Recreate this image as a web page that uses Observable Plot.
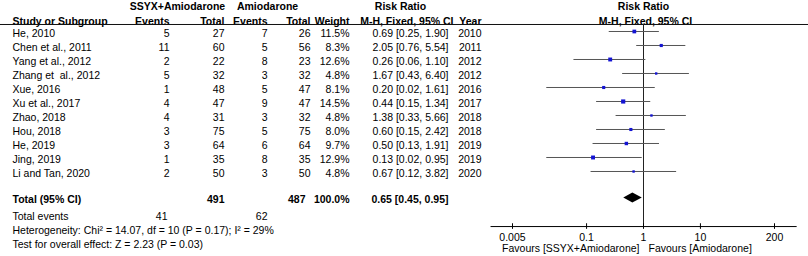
<!DOCTYPE html>
<html>
<head>
<meta charset="utf-8">
<script src="https://cdn.jsdelivr.net/npm/d3@7"></script>
<script src="https://cdn.jsdelivr.net/npm/@observablehq/plot@0.6"></script>
<style>
  html, body { margin: 0; padding: 0; background: #fff; }
  #chart { width: 808px; height: 256px; }
</style>
</head>
<body>
<div id="chart"></div>
<script>
// ---- data ----
const studies = ["He, 2010", "Chen et al., 2011", "Yang et al., 2012", "Zhang et\u00a0 al., 2012", "Xue, 2016",
  "Xu et al., 2017", "Zhao, 2018", "Hou, 2018", "He, 2019", "Jing, 2019", "Li and Tan, 2020"];
const ssyxEvents = [5, 11, 2, 5, 1, 4, 4, 3, 3, 1, 2];
const ssyxTotal = [27, 60, 22, 32, 48, 47, 31, 75, 64, 35, 50];
const amioEvents = [7, 5, 8, 3, 5, 9, 3, 5, 6, 8, 3];
const amioTotal = [26, 56, 23, 32, 47, 47, 32, 75, 64, 35, 50];
const weights = [11.5, 8.3, 12.6, 4.8, 8.1, 14.5, 4.8, 8.0, 9.7, 12.9, 4.8];
const riskRatio = [0.69, 2.05, 0.26, 1.67, 0.20, 0.44, 1.38, 0.60, 0.50, 0.13, 0.67];
const ciLow = [0.25, 0.76, 0.06, 0.43, 0.02, 0.15, 0.33, 0.15, 0.13, 0.02, 0.12];
const ciHigh = [1.90, 5.54, 1.10, 6.40, 1.61, 1.34, 5.66, 2.42, 1.91, 0.95, 3.82];
const years = ["2010", "2011", "2012", "2012", "2016", "2017", "2018", "2018", "2019", "2019", "2020"];

const totalLabel = "Total (95% CI)";
const totalN = ["491", "487"];
const totalWeight = "100.0%";
const totalRR = [0.65, 0.45, 0.95]; // estimate, low, high
const totalEventsLabel = "Total events";
const totalEvents = ["41", "62"];
const heterogeneityText = "Heterogeneity: Chi\u00b2 = 14.07, df = 10 (P = 0.17); I\u00b2 = 29%";
const overallText = "Test for overall effect: Z = 2.23 (P = 0.03)";

const groupHeaders = ["SSYX+Amiodarone", "Amiodarone", "Risk Ratio", "Risk Ratio"];
const columnHeaders = ["Study or Subgroup", "Events", "Total", "Events", "Total", "Weight", "M-H, Fixed, 95% CI", "Year", "M-H, Fixed, 95% CI"];
const axisTicks = [0.005, 0.1, 1, 10, 200];
const axisTickLabels = ["0.005", "0.1", "1", "10", "200"];
const axisExtent = [0.0021, 500];
const favoursLabels = ["Favours [SSYX+Amiodarone]", "Favours [Amiodarone]"];

// ---- layout (row units & column offsets) ----
const ROW_H1 = -0.93, ROW_H2 = 0.14, ROW_RULE = 0.357;
const ROW_TOTAL = 12.857, ROW_TEV = 14.07, ROW_HET = 15.07, ROW_TEST = 16.07;
const ROW_AXIS = 14.79, ROW_TICKLAB = 15.57, ROW_FAV = 16.36;
const COL = {study: 12, e1: 169, n1: 224, e2: 267, n2: 310, w: 349, ci: 448, year: 481};

const rows = studies.map((s, i) => ({
  study: s, e1: String(ssyxEvents[i]), n1: String(ssyxTotal[i]), e2: String(amioEvents[i]), n2: String(amioTotal[i]),
  w: weights[i].toFixed(1) + "%", weight: weights[i],
  ci: `${riskRatio[i].toFixed(2)} [${ciLow[i].toFixed(2)}, ${ciHigh[i].toFixed(2)}]`,
  rr: riskRatio[i], lo: ciLow[i], hi: ciHigh[i], year: years[i], row: i + 1
}));

const F = "Liberation Sans, Arial, Helvetica, sans-serif";
const base = {frameAnchor: "left", fill: "#000", fontSize: 10.5};
function col(data, key, dx, anchor, extra = {}) {
  return Plot.text(data, {...base, y: "row", text: key, dx, textAnchor: anchor, ...extra});
}

const headerData1 = [
  {t: groupHeaders[0], dx: 177, a: "middle"},
  {t: groupHeaders[1], dx: 267, a: "middle"},
  {t: groupHeaders[2], dx: 400, a: "middle"},
  {t: groupHeaders[3], dx: 643, a: "middle"}
];
const headerData2 = [
  {t: columnHeaders[0], dx: COL.study, a: "start"},
  {t: columnHeaders[1], dx: COL.e1, a: "end"},
  {t: columnHeaders[2], dx: COL.n1, a: "end"},
  {t: columnHeaders[3], dx: COL.e2, a: "end"},
  {t: columnHeaders[4], dx: COL.n2, a: "end"},
  {t: columnHeaders[5], dx: COL.w, a: "end"},
  {t: columnHeaders[6], dx: 453, a: "end"},
  {t: columnHeaders[7], dx: COL.year, a: "end"},
  {t: columnHeaders[8], dx: 645, a: "middle"}
];
const totalRow = [{study: totalLabel, n1: totalN[0], n2: totalN[1], w: totalWeight,
  ci: `${totalRR[0].toFixed(2)} [${totalRR[1].toFixed(2)}, ${totalRR[2].toFixed(2)}]`, row: ROW_TOTAL}];
const tevRow = [{study: totalEventsLabel, e1: totalEvents[0], e2: totalEvents[1], row: ROW_TEV}];
const footRows = [{t: heterogeneityText, row: ROW_HET}, {t: overallText, row: ROW_TEST}];
const tickData = axisTicks.map((v, i) => ({v, label: axisTickLabels[i]}));

const dh = 0.36;
const diamond = [
  {x: totalRR[1], y1: ROW_TOTAL, y2: ROW_TOTAL},
  {x: totalRR[0], y1: ROW_TOTAL - dh, y2: ROW_TOTAL + dh},
  {x: totalRR[2], y1: ROW_TOTAL, y2: ROW_TOTAL}
];

const chart = Plot.plot({
  width: 808, height: 256,
  marginTop: 0, marginLeft: 0, marginRight: 0, marginBottom: 0,
  style: {fontFamily: F, fontSize: "10.5px", color: "#000", background: "#fff"},
  x: {type: "log", domain: [0.005, 200], range: [512, 774], axis: null},
  y: {type: "linear", domain: [-1.357, 16.929], range: [0, 256], axis: null},
  r: {type: "sqrt", domain: [0, 15], range: [0, 2.4]},
  marks: [
    // header
    ...headerData1.map(h => Plot.text([h], {...base, y: () => ROW_H1, text: "t", dx: h.dx, textAnchor: h.a, fontWeight: "bold"})),
    ...headerData2.map(h => Plot.text([h], {...base, y: () => ROW_H2, text: "t", dx: h.dx, textAnchor: h.a, fontWeight: "bold"})),
    Plot.ruleY([ROW_RULE], {stroke: "#111", strokeWidth: 1}),
    // study rows
    col(rows, "study", COL.study, "start"),
    col(rows, "e1", COL.e1, "end"),
    col(rows, "n1", COL.n1, "end"),
    col(rows, "e2", COL.e2, "end"),
    col(rows, "n2", COL.n2, "end"),
    col(rows, "w", COL.w, "end"),
    col(rows, "ci", COL.ci, "end"),
    col(rows, "year", COL.year, "end"),
    // total rows
    col(totalRow, "study", COL.study, "start", {fontWeight: "bold"}),
    col(totalRow, "n1", COL.n1, "end", {fontWeight: "bold"}),
    col(totalRow, "n2", 305, "end", {fontWeight: "bold"}),
    col(totalRow, "w", COL.w, "end", {fontWeight: "bold"}),
    col(totalRow, "ci", COL.ci, "end", {fontWeight: "bold"}),
    col(tevRow, "study", COL.study, "start"),
    col(tevRow, "e1", COL.e1 - 2, "end"),
    col(tevRow, "e2", COL.e2, "end"),
    col(footRows, "t", COL.study, "start"),
    // forest plot
    Plot.ruleX([1], {y1: ROW_RULE, y2: ROW_AXIS, stroke: "#222", strokeWidth: 1}),
    Plot.ruleY(rows, {y: "row", x1: "lo", x2: "hi", stroke: "#555", strokeWidth: 1, dy: -2}),
    Plot.dot(rows, {x: "rr", y: "row", r: "weight", symbol: "square", fill: "#1414d2", stroke: null, dy: -2}),
    Plot.areaY(diamond, {x: "x", y1: "y1", y2: "y2", fill: "#000", curve: "linear", dy: -1.5}),
    // axis
    Plot.ruleY([ROW_AXIS], {x1: axisExtent[0], x2: axisExtent[1], stroke: "#000", strokeWidth: 1}),
    Plot.ruleX(axisTicks, {y1: ROW_AXIS - 0.2, y2: ROW_AXIS + 0.2, stroke: "#000"}),
    Plot.text(tickData, {x: "v", y: () => ROW_TICKLAB, text: "label", textAnchor: "middle", fill: "#000", fontSize: 10.5}),
    Plot.text([favoursLabels[0]], {x: () => 1, y: () => ROW_FAV, text: d => d, textAnchor: "end", dx: -4, fill: "#000", fontSize: 10.5}),
    Plot.text([favoursLabels[1]], {x: () => 1, y: () => ROW_FAV, text: d => d, textAnchor: "start", dx: 5, fill: "#000", fontSize: 10.5})
  ]
});
document.getElementById("chart").appendChild(chart);
</script>
</body>
</html>
